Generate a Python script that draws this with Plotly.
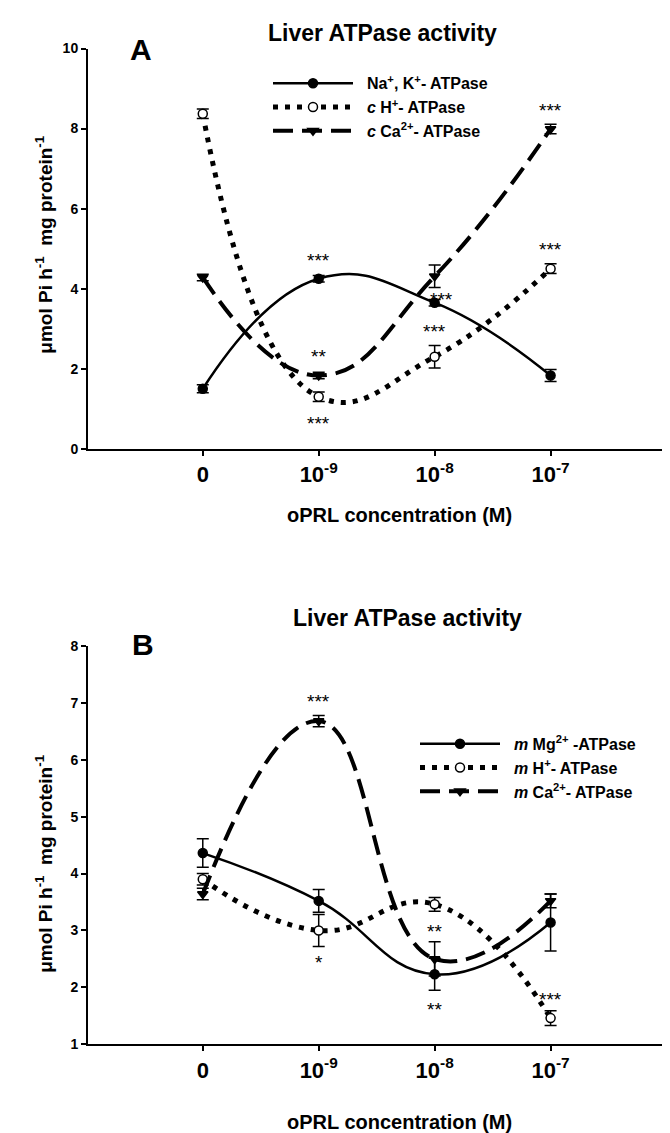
import plotly.graph_objects as go

# ---------------- data ----------------
conc_labels = ["0", "10<sup>-9</sup>", "10<sup>-8</sup>", "10<sup>-7</sup>"]
conc_pos = [0, 1, 2, 3]

# Panel A (cytosolic / plasma membrane)
nak_mean = [1.50, 4.25, 3.65, 1.83]
nak_err = [0.10, 0.08, 0.08, 0.15]
ch_mean = [8.37, 1.30, 2.30, 4.50]
ch_err = [0.12, 0.12, 0.28, 0.12]
cca_mean = [4.28, 1.83, 4.31, 7.99]
cca_err = [0.08, 0.08, 0.28, 0.12]

# Panel B (mitochondrial)
mg_mean = [4.36, 3.52, 2.23, 3.14]
mg_err = [0.25, 0.20, 0.28, 0.50]
mh_mean = [3.90, 3.00, 3.46, 1.46]
mh_err = [0.10, 0.28, 0.12, 0.13]
mca_mean = [3.64, 6.68, 2.50, 3.52]
mca_err = [0.10, 0.10, 0.30, 0.12]

# significance marks: (x position, y value, label)
sig_a_x = [1, 1, 1, 2.06, 2.0, 3, 3]
sig_a_y = [4.80, 2.40, 0.74, 3.84, 3.02, 8.55, 5.07]
sig_a_txt = ["***", "**", "***", "***", "***", "***", "***"]

sig_b_x = [1, 1, 2, 2, 3]
sig_b_y = [7.10, 2.51, 3.05, 1.69, 1.85]
sig_b_txt = ["***", "*", "**", "**", "***"]

FONT = "Liberation Sans, Arial, sans-serif"
W, H = 670, 1133
GAP = "\u00a0\u00a0"

fig = go.Figure()


def add_series(y, err, name, dash, width, symbol, fill, xa, ya, legend):
    fig.add_trace(go.Scatter(
        x=conc_pos, y=y, name=GAP + name, mode="lines+markers",
        xaxis=xa, yaxis=ya, legend=legend,
        line=dict(color="black", width=width, dash=dash, shape="spline", smoothing=1.3),
        marker=dict(symbol=symbol, size=9, color=fill,
                    line=dict(color="black", width=1.5)),
        error_y=dict(type="data", array=err, visible=True, color="black",
                     thickness=1.5, width=6),
    ))


add_series(nak_mean, nak_err, "Na<sup>+</sup>, K<sup>+</sup>- ATPase", "solid", 2.5,
           "circle", "black", "x", "y", "legend")
add_series(ch_mean, ch_err, "<i>c</i> H<sup>+</sup>- ATPase", "5px,7px", 5,
           "circle", "white", "x", "y", "legend")
add_series(cca_mean, cca_err, "<i>c</i> Ca<sup>2+</sup>- ATPase", "20px,9px", 4,
           "triangle-down", "black", "x", "y", "legend")

add_series(mg_mean, mg_err, "<i>m</i> Mg<sup>2+</sup> -ATPase", "solid", 2.5,
           "circle", "black", "x2", "y2", "legend2")
add_series(mh_mean, mh_err, "<i>m</i> H<sup>+</sup>- ATPase", "5px,7px", 5,
           "circle", "white", "x2", "y2", "legend2")
add_series(mca_mean, mca_err, "<i>m</i> Ca<sup>2+</sup>- ATPase", "20px,9px", 4,
           "triangle-down", "black", "x2", "y2", "legend2")

xdom = [80 / W, 662 / W]
ydomA = [1 - 439 / H, 1 - 33 / H]
ydomB = [1 - 1043 / H, 1 - 639 / H]

xaxis_common = dict(
    range=[-0.99, 4.03], tickmode="array", tickvals=conc_pos, ticktext=conc_labels,
    showline=True, linecolor="black", linewidth=2, ticks="outside", ticklen=5,
    tickwidth=1.5, tickcolor="black", showgrid=False, zeroline=False,
    tickfont=dict(family=FONT, size=22, color="black", weight="bold"),
)
yaxis_common = dict(
    showline=True, linecolor="black", linewidth=2, ticks="outside", ticklen=5,
    tickwidth=1.5, tickcolor="black", showgrid=False, zeroline=False,
    tickfont=dict(family=FONT, size=14, color="black", weight="bold"),
)

legend_common = dict(
    bgcolor="rgba(0,0,0,0)", borderwidth=0, itemwidth=80,
    font=dict(family=FONT, size=16, color="black", weight="bold"),
    xanchor="left", yanchor="top", tracegroupgap=0, itemclick=False,
)

annotations = []
txtfont = dict(family=FONT, color="black", weight="bold")

for xv, yv, t in zip(sig_a_x, sig_a_y, sig_a_txt):
    annotations.append(dict(x=xv, y=yv, xref="x", yref="y", text=t, showarrow=False,
                            xanchor="center", yanchor="middle", yshift=-4,
                            font=dict(family=FONT, size=19, color="black")))
for xv, yv, t in zip(sig_b_x, sig_b_y, sig_b_txt):
    annotations.append(dict(x=xv, y=yv, xref="x2", yref="y2", text=t, showarrow=False,
                            xanchor="center", yanchor="middle", yshift=-4,
                            font=dict(family=FONT, size=19, color="black")))

ylabel = "\u03bcmol Pi h<sup>-1</sup>  mg protein<sup>-1</sup>"


def paper_text(x, y, text, size, angle=0):
    return dict(x=x / W, y=1 - y / H, xref="paper", yref="paper", text=text,
                textangle=angle, xanchor="center", yanchor="middle",
                showarrow=False, font=dict(size=size, **txtfont))


annotations += [
    paper_text(374, 17, "Liver ATPase activity", 23),
    paper_text(400, 611, "Liver ATPase activity", 23),
    paper_text(133, 34, "A", 30),
    paper_text(135, 637, "B", 30),
    paper_text(36, 232, ylabel, 19, -90),
    paper_text(36, 860, ylabel, 19, -90),
    paper_text(391, 506, "oPRL concentration (M)", 20),
    paper_text(391, 1122, "oPRL concentration (M)", 20),
]

fig.update_layout(
    width=W, height=H, margin=dict(l=0, r=0, t=0, b=0),
    paper_bgcolor="white", plot_bgcolor="white",
    xaxis=dict(domain=xdom, anchor="y", **xaxis_common),
    yaxis=dict(domain=ydomA, anchor="x", range=[0, 10], tickvals=[0, 2, 4, 6, 8, 10],
               **yaxis_common),
    xaxis2=dict(domain=xdom, anchor="y2", **xaxis_common),
    yaxis2=dict(domain=ydomB, anchor="x2", range=[1, 8], tickvals=[1, 2, 3, 4, 5, 6, 7, 8],
                **yaxis_common),
    legend=dict(x=260 / W, y=1 - 51 / H, **legend_common),
    legend2=dict(x=407 / W, y=1 - 721 / H, **legend_common),
    annotations=annotations,
    showlegend=True,
)

fig.write_html("out.html")
